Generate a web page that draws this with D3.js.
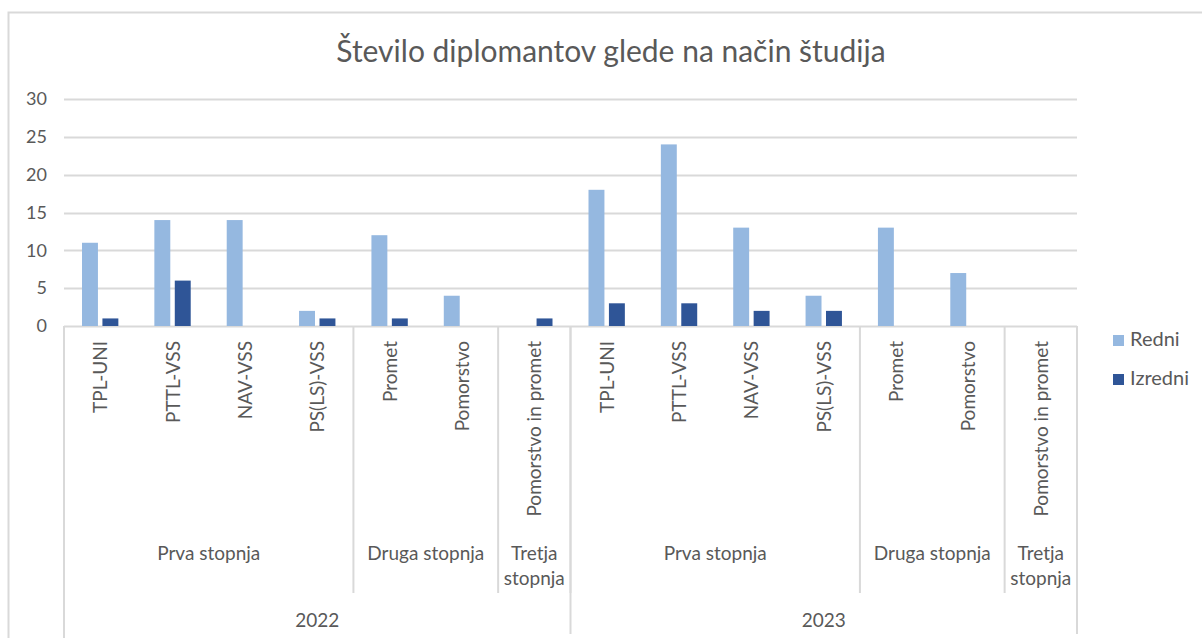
<!DOCTYPE html>
<html>
<head>
<meta charset="utf-8">
<script src="https://cdn.jsdelivr.net/npm/d3@7"></script>
<style>
  body { margin: 0; background: #fff; }
  text { font-family: Lato, "Open Sans", sans-serif; fill: #595959; }
</style>
</head>
<body>
<div id="chart"></div>
<script>
// Data
const years = ["2022", "2023"];
const levels = ["Prva stopnja", "Druga stopnja", "Tretja stopnja"];
const programs = [
  ["TPL-UNI", "PTTL-VSS", "NAV-VSS", "PS(LS)-VSS"],
  ["Promet", "Pomorstvo"],
  ["Pomorstvo in promet"]
];
const redni = [11, 14, 14, 2, 12, 4, 0, 18, 24, 13, 4, 13, 7, 0];
const izredni = [1, 6, 0, 1, 1, 0, 1, 3, 3, 2, 2, 0, 0, 0];
const seriesNames = ["Redni", "Izredni"];
const colors = ["#95b8e0", "#2f5597"];
const yTicks = [0, 5, 10, 15, 20, 25, 30];

// flatten categories
const cats = [];
years.forEach(y => levels.forEach((l, li) => programs[li].forEach(p => cats.push({ year: y, level: l, program: p }))));
cats.forEach((c, i) => { c.i = i; c.redni = redni[i]; c.izredni = izredni[i]; });

const width = 1202, height = 638;
const plot = { left: 64, right: 1077, top: 99, bottom: 326 };
const fs = "19px";

const svg = d3.select("#chart").append("svg")
  .attr("width", width)
  .attr("height", height);

// chart frame
svg.append("rect")
  .attr("x", 8.5).attr("y", 12.5)
  .attr("width", 1210).attr("height", 640)
  .attr("fill", "none").attr("stroke", "#d9d9d9").attr("stroke-width", 2);

svg.append("text")
  .attr("x", 611).attr("y", 62)
  .attr("text-anchor", "middle")
  .style("font-size", "30px")
  .text("Število diplomantov glede na način študija");

const x = d3.scaleBand().domain(cats.map(c => c.i)).range([plot.left, plot.right]);
const xSub = d3.scaleBand().domain(seriesNames).range([18, x.bandwidth() - 18]).paddingInner(0.22);
const y = d3.scaleLinear().domain([0, 30]).range([plot.bottom, plot.top]);

// gridlines
svg.append("g").selectAll("line")
  .data(yTicks)
  .enter().append("line")
  .attr("x1", plot.left).attr("x2", plot.right)
  .attr("y1", d => Math.round(y(d)) + 0.5).attr("y2", d => Math.round(y(d)) + 0.5)
  .attr("stroke", "#d9d9d9").attr("stroke-width", 2);

// y labels
const yAxis = d3.axisLeft(y).tickValues(yTicks).tickSize(0).tickPadding(0);
const gy = svg.append("g").attr("transform", `translate(${plot.left - 17},0)`).call(yAxis);
gy.select(".domain").remove();
gy.selectAll("text").style("font-size", "18px").attr("fill", "#595959").style("font-family", "Lato, sans-serif");

// bars
const groups = svg.append("g").selectAll("g")
  .data(cats)
  .enter().append("g")
  .attr("transform", d => `translate(${x(d.i)},0)`);

groups.selectAll("rect")
  .data(d => [{ k: "Redni", v: d.redni }, { k: "Izredni", v: d.izredni }])
  .enter().append("rect")
  .attr("x", d => xSub(d.k))
  .attr("width", xSub.bandwidth())
  .attr("y", d => y(d.v))
  .attr("height", d => y(0) - y(d.v))
  .attr("fill", (d, i) => colors[i]);

// category labels (rotated)
svg.append("g").selectAll("text")
  .data(cats)
  .enter().append("text")
  .attr("transform", d => `translate(${x(d.i) + x.bandwidth() / 2 + 7},341) rotate(-90)`)
  .attr("text-anchor", "end")
  .style("font-size", fs)
  .text(d => d.program);

// separators and group labels
const sep = svg.append("g").attr("stroke", "#d9d9d9").attr("stroke-width", 2);
const levelGroups = d3.groups(cats, d => d.year + "|" + d.level).map(([k, v]) => ({ key: k, level: v[0].level, first: v[0].i, last: v[v.length - 1].i }));
const yearGroups = d3.groups(cats, d => d.year).map(([k, v]) => ({ year: k, first: v[0].i, last: v[v.length - 1].i }));

levelGroups.forEach(g => {
  const x0 = x(g.first), x1 = x(g.last) + x.bandwidth();
  sep.append("line").attr("x1", x1).attr("x2", x1).attr("y1", plot.bottom).attr("y2", 593);
  const t = svg.append("text")
    .attr("x", (x0 + x1) / 2).attr("y", 560)
    .attr("text-anchor", "middle")
    .style("font-size", fs);
  if (g.level === "Tretja stopnja") {
    t.append("tspan").attr("x", (x0 + x1) / 2).text("Tretja");
    t.append("tspan").attr("x", (x0 + x1) / 2).attr("dy", 25).text("stopnja");
  } else {
    t.text(g.level);
  }
});

yearGroups.forEach(g => {
  const x0 = x(g.first), x1 = x(g.last) + x.bandwidth();
  sep.append("line").attr("x1", x1).attr("x2", x1).attr("y1", plot.bottom).attr("y2", 634);
  svg.append("text")
    .attr("x", (x0 + x1) / 2).attr("y", 627)
    .attr("text-anchor", "middle")
    .style("font-size", fs)
    .text(g.year);
});
sep.append("line").attr("x1", plot.left).attr("x2", plot.left).attr("y1", plot.bottom).attr("y2", 638);

// legend
const legend = svg.append("g").selectAll("g")
  .data(seriesNames)
  .enter().append("g")
  .attr("transform", (d, i) => `translate(1113,${335 + i * 39})`);
legend.append("rect").attr("width", 11).attr("height", 11).attr("fill", (d, i) => colors[i]);
legend.append("text").attr("x", 17).attr("y", 11).style("font-size", "20px").text(d => d);
</script>
</body>
</html>
